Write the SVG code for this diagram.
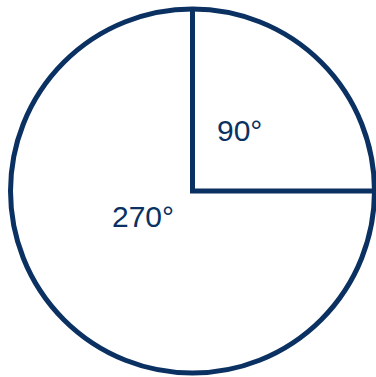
<svg xmlns="http://www.w3.org/2000/svg" width="376" height="377" viewBox="0 0 376 377">
<style>
.ln{fill:none;stroke:#0a3161;stroke-width:5}
.lb{font-family:"Liberation Sans",Arial,sans-serif;font-size:30px;fill:#0a3161}
</style>
<rect width="376" height="377" fill="#fff"/>
<g id="circle"><circle class="ln" cx="192.5" cy="191" r="182"/></g>
<g id="connectors">
<polyline class="ln" points="192.5,9 192.5,191 374,191"/>
</g>
<g id="label90"><text class="lb" x="217" y="141">90°</text></g>
<g id="label270"><text class="lb" x="112" y="227">270°</text></g>
</svg>
